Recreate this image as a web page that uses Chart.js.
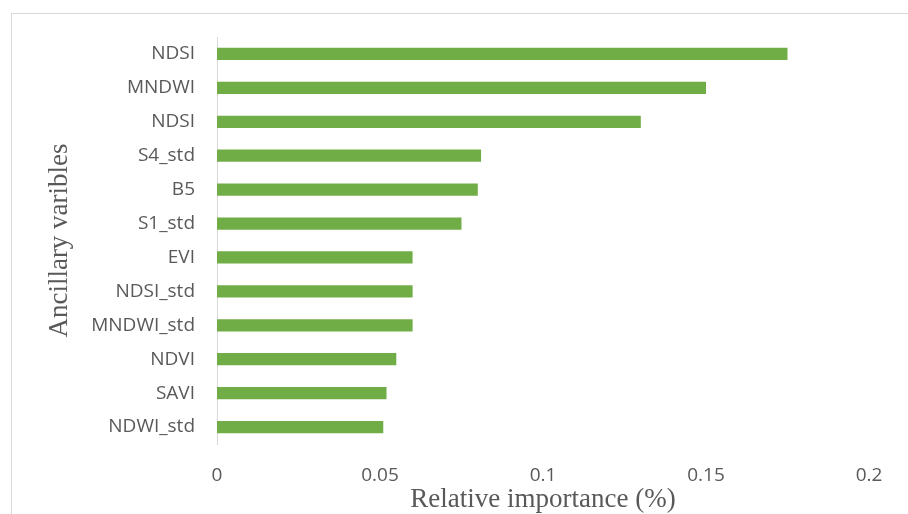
<!DOCTYPE html>
<html>
<head>
<meta charset="utf-8">
<script src="https://cdn.jsdelivr.net/npm/chart.js@4.4.1/dist/chart.umd.min.js"></script>
<style>
    html, body { margin: 0; padding: 0; background: #fff; overflow: hidden; }
    #wrap { position: relative; width: 908px; height: 514px; }
    #frame { position: absolute; left: 11px; top: 13px; width: 1000px; height: 600px; border: 1px solid #d9d9d9; }
    #chart { position: absolute; left: 0; top: 0; }
</style>
</head>
<body>
<div id="wrap">
    <div id="frame"></div>
    <canvas id="chart" width="908" height="514"></canvas>
</div>
<script>
const variables = ['NDSI', 'MNDWI', 'NDSI', 'S4_std', 'B5', 'S1_std', 'EVI', 'NDSI_std', 'MNDWI_std', 'NDVI', 'SAVI', 'NDWI_std'];
const importance = [0.175, 0.15, 0.13, 0.081, 0.08, 0.075, 0.06, 0.06, 0.06, 0.055, 0.052, 0.051];
const xTickLabels = ['0', '0.05', '0.1', '0.15', '0.2'];

const textColor = '#595959';

const ctx = document.getElementById('chart').getContext('2d');

new Chart(ctx, {
    type: 'bar',
    data: {
        labels: variables,
        datasets: [{
            data: importance,
            backgroundColor: '#70ad47',
            borderWidth: 0,
            categoryPercentage: 1,
            barPercentage: 0.36
        }]
    },
    options: {
        indexAxis: 'y',
        responsive: false,
        animation: false,
        layout: {
            padding: { top: 37, right: 39, bottom: 0, left: 0 }
        },
        plugins: {
            legend: { display: false },
            tooltip: { enabled: false }
        },
        scales: {
            x: {
                min: 0,
                max: 0.2,
                grid: { display: false, drawTicks: false },
                border: { display: false },
                ticks: {
                    stepSize: 0.05,
                    padding: 20,
                    color: textColor,
                    font: { family: 'Open Sans', size: 19 },
                    callback: (v, i) => xTickLabels[i]
                },
                title: {
                    display: true,
                    text: 'Relative importance (%)',
                    color: textColor,
                    font: { family: 'Liberation Serif', size: 27, lineHeight: 1 },
                    padding: { top: 0, bottom: 1 }
                },
                afterFit: (scale) => { scale.height = 70; }
            },
            y: {
                grid: { display: false, drawTicks: false },
                border: { display: true, color: '#d9d9d9', width: 1 },
                ticks: {
                    padding: 22,
                    color: textColor,
                    font: { family: 'Open Sans', size: 19 }
                },
                title: {
                    display: true,
                    text: 'Ancillary varibles',
                    color: textColor,
                    font: { family: 'Liberation Serif', size: 27, lineHeight: 1 },
                    padding: { top: 46, bottom: 0 }
                },
                afterFit: (scale) => { scale.width = 217; }
            }
        }
    }
});
</script>
</body>
</html>
